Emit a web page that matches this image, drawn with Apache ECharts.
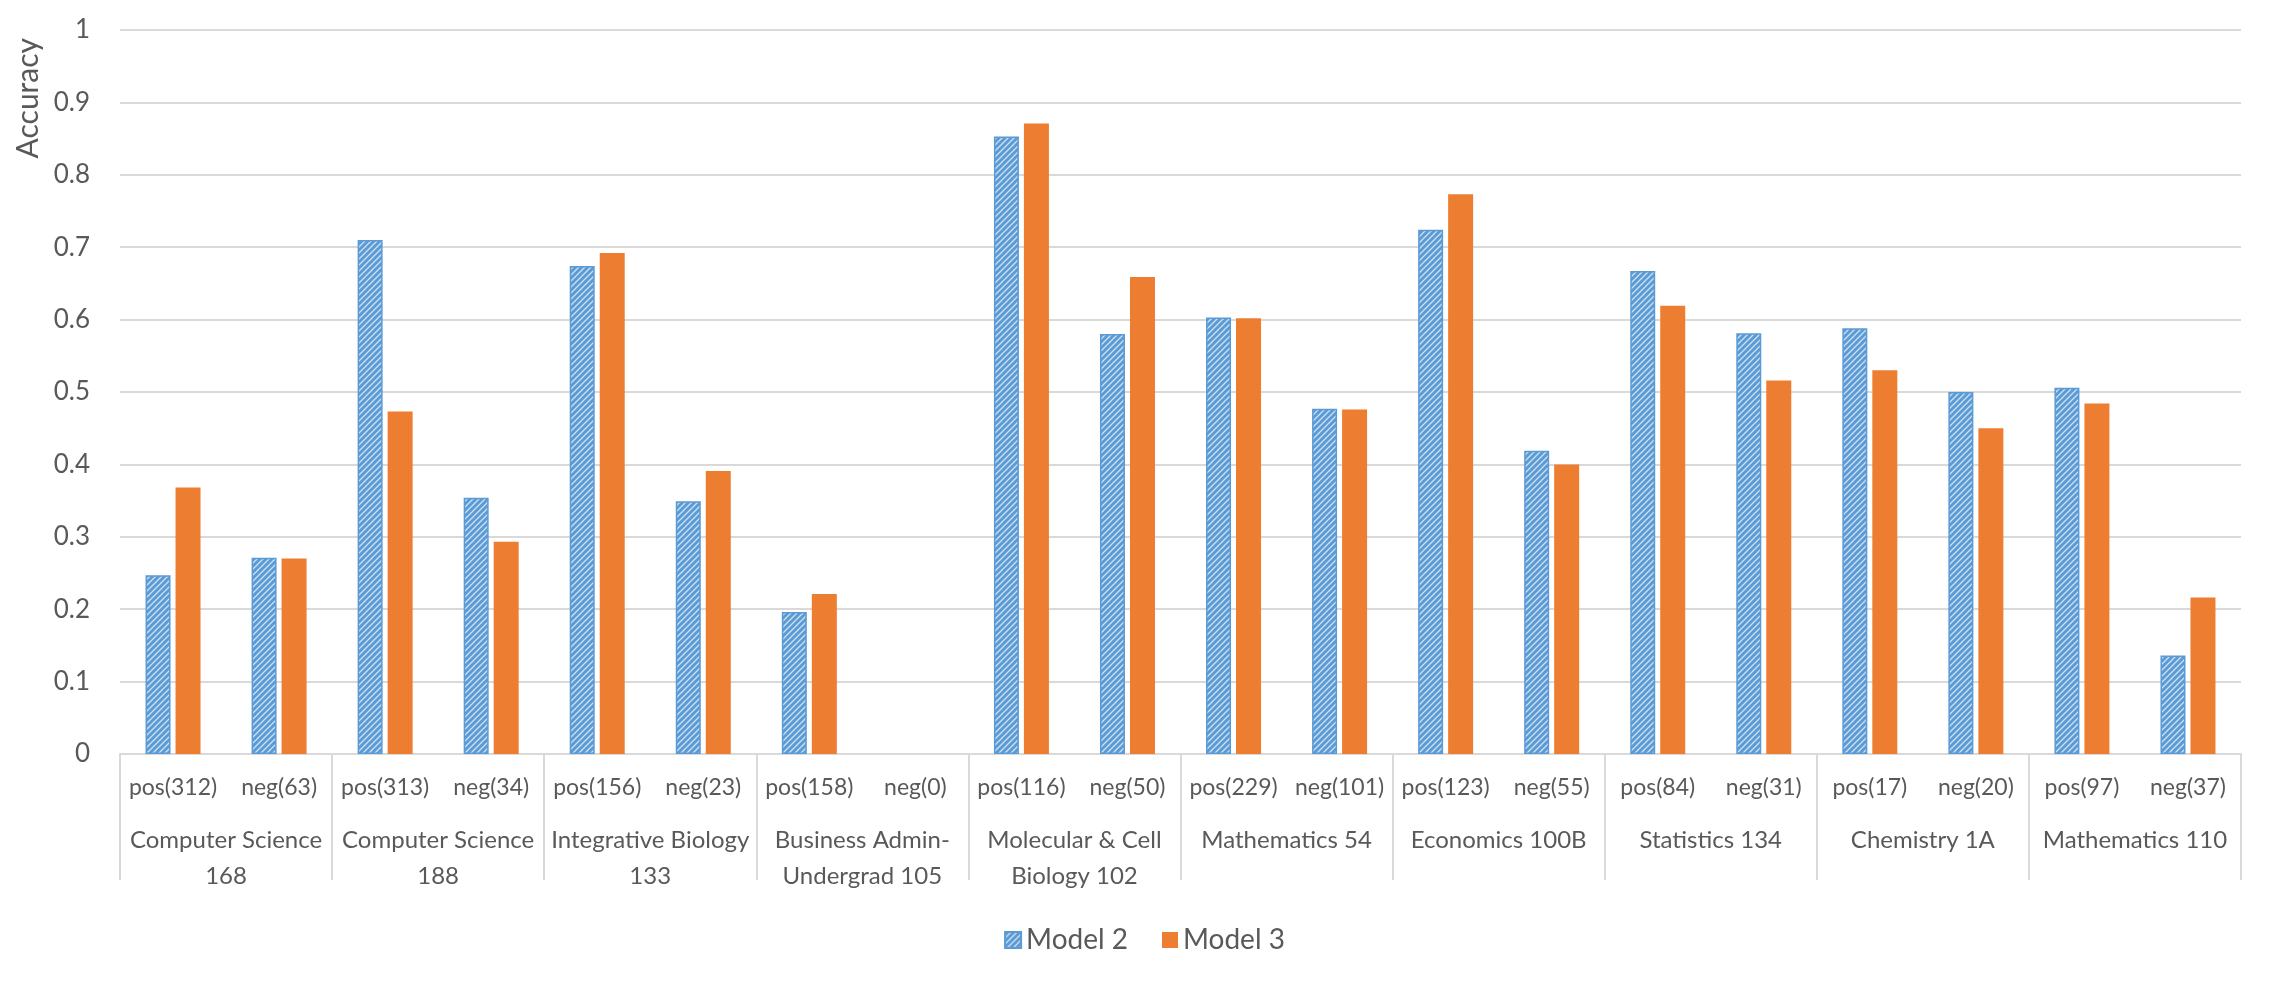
<!DOCTYPE html>
<html>
<head>
<meta charset="utf-8">
<script src="https://cdn.jsdelivr.net/npm/echarts@6/dist/echarts.min.js"></script>
<style>
  html, body { margin: 0; padding: 0; background: #fff; }
  #chart { width: 2289px; height: 987px; }
</style>
</head>
<body>
<div id="chart"></div>
<script>
  // sub categories (bottom row 1)
  var subLabels = ['pos(312)', 'neg(63)', 'pos(313)', 'neg(34)', 'pos(156)', 'neg(23)',
    'pos(158)', 'neg(0)', 'pos(116)', 'neg(50)', 'pos(229)', 'neg(101)', 'pos(123)', 'neg(55)',
    'pos(84)', 'neg(31)', 'pos(17)', 'neg(20)', 'pos(97)', 'neg(37)'];
  // course groups (bottom row 2)
  var groupLabels = ['Computer Science\n168', 'Computer Science\n188', 'Integrative Biology\n133',
    'Business Admin-\nUndergrad 105', 'Molecular & Cell\nBiology 102', 'Mathematics 54',
    'Economics 100B', 'Statistics 134', 'Chemistry 1A', 'Mathematics 110'];
  var model2 = [0.247, 0.271, 0.710, 0.354, 0.674, 0.349, 0.196, 0, 0.853, 0.580,
    0.603, 0.477, 0.724, 0.419, 0.667, 0.581, 0.588, 0.500, 0.506, 0.136];
  var model3 = [0.368, 0.270, 0.473, 0.293, 0.692, 0.391, 0.221, 0, 0.871, 0.659,
    0.602, 0.476, 0.773, 0.400, 0.619, 0.516, 0.530, 0.450, 0.484, 0.216];

  var textColor = '#595959';
  var lineColor = '#d9d9d9';
  var font = 'Lato, "Open Sans", sans-serif';

  // hatch pattern for Model 2
  function hatch() {
    var c = document.createElement('canvas');
    c.width = 6; c.height = 6;
    var ctx = c.getContext('2d');
    ctx.fillStyle = '#5B9BD5';
    ctx.fillRect(0, 0, 6, 6);
    ctx.strokeStyle = 'rgba(255,255,255,0.7)';
    ctx.lineWidth = 1.3;
    ctx.beginPath();
    ctx.moveTo(0, 6); ctx.lineTo(6, 0);
    ctx.moveTo(-3, 3); ctx.lineTo(3, -3);
    ctx.moveTo(3, 9); ctx.lineTo(9, 3);
    ctx.stroke();
    return c;
  }

  // no outline on empty bars
  var model2Data = model2.map(function (v) {
    return v > 0 ? v : { value: v, itemStyle: { borderWidth: 0 } };
  });

  var chart = echarts.init(document.getElementById('chart'));
  chart.setOption({
    backgroundColor: '#fff',
    animation: false,
    textStyle: { fontFamily: font },
    grid: { left: 120, right: 48, top: 30, bottom: 233 },
    legend: {
      bottom: 28,
      left: 'center',
      itemWidth: 16,
      itemHeight: 16,
      itemGap: 34,
      icon: 'rect',
      textStyle: { color: textColor, fontSize: 28, fontFamily: font },
      data: ['Model 2', 'Model 3']
    },
    graphic: [{
      type: 'text',
      left: 13,
      top: 38,
      rotation: Math.PI / 2,
      style: { text: 'Accuracy', fill: textColor, fontSize: 30, fontFamily: font }
    }],
    xAxis: [
      {
        type: 'category',
        position: 'bottom',
        data: subLabels,
        axisLine: { lineStyle: { color: lineColor, width: 2 } },
        axisTick: { show: false },
        axisLabel: { color: textColor, fontSize: 23, margin: 22, interval: 0 }
      },
      {
        type: 'category',
        position: 'bottom',
        data: groupLabels,
        axisLine: { show: false },
        axisTick: { show: true, length: 126, lineStyle: { color: lineColor, width: 2 } },
        axisLabel: { color: textColor, fontSize: 24, margin: 68, interval: 0, lineHeight: 36 }
      }
    ],
    yAxis: {
      type: 'value',
      min: 0,
      max: 1,
      interval: 0.1,
      axisLine: { show: false },
      axisTick: { show: false },
      axisLabel: { color: textColor, fontSize: 26, margin: 30 },
      splitLine: { lineStyle: { color: lineColor, width: 2 } }
    },
    series: [
      {
        name: 'Model 2',
        type: 'bar',
        xAxisIndex: 0,
        barWidth: 25,
        barGap: '20%',
        itemStyle: { color: { image: hatch(), repeat: 'repeat' }, borderColor: '#5B9BD5', borderWidth: 1.5 },
        data: model2Data
      },
      {
        name: 'Model 3',
        type: 'bar',
        xAxisIndex: 0,
        barWidth: 25,
        barGap: '20%',
        itemStyle: { color: '#ED7D31' },
        data: model3
      }
    ]
  });
</script>
</body>
</html>
